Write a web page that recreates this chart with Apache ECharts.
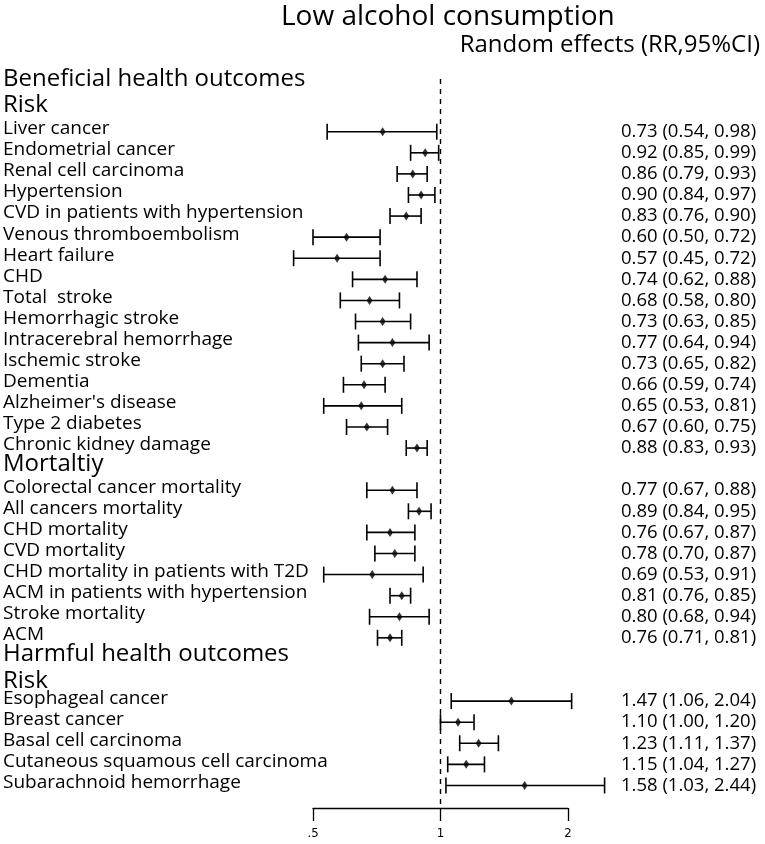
<!DOCTYPE html>
<html>
<head>
<meta charset="utf-8">
<script src="https://cdn.jsdelivr.net/npm/echarts@6/dist/echarts.min.js"></script>
<style>
  html, body { margin: 0; padding: 0; background: #fff; }
  #forest { width: 765px; height: 844px; }
</style>
</head>
<body>
<div id="forest"></div>
<script>
// rows top to bottom; headers have null values
var rowLabels = [
    'Beneficial health outcomes', 'Risk',
    'Liver cancer', 'Endometrial cancer', 'Renal cell carcinoma', 'Hypertension',
    'CVD in patients with hypertension', 'Venous thromboembolism', 'Heart failure', 'CHD',
    'Total  stroke', 'Hemorrhagic stroke', 'Intracerebral hemorrhage', 'Ischemic stroke',
    'Dementia', "Alzheimer's disease", 'Type 2 diabetes', 'Chronic kidney damage',
    'Mortaltiy',
    'Colorectal cancer mortality', 'All cancers mortality', 'CHD mortality', 'CVD mortality',
    'CHD mortality in patients with T2D', 'ACM in patients with hypertension', 'Stroke mortality', 'ACM',
    'Harmful health outcomes', 'Risk',
    'Esophageal cancer', 'Breast cancer', 'Basal cell carcinoma',
    'Cutaneous squamous cell carcinoma', 'Subarachnoid hemorrhage'
];
var rr = [
    null, null,
    0.73, 0.92, 0.86, 0.90, 0.83, 0.60, 0.57, 0.74, 0.68, 0.73, 0.77, 0.73, 0.66, 0.65, 0.67, 0.88,
    null,
    0.77, 0.89, 0.76, 0.78, 0.69, 0.81, 0.80, 0.76,
    null, null,
    1.47, 1.10, 1.23, 1.15, 1.58
];
var lower = [
    null, null,
    0.54, 0.85, 0.79, 0.84, 0.76, 0.50, 0.45, 0.62, 0.58, 0.63, 0.64, 0.65, 0.59, 0.53, 0.60, 0.83,
    null,
    0.67, 0.84, 0.67, 0.70, 0.53, 0.76, 0.68, 0.71,
    null, null,
    1.06, 1.00, 1.11, 1.04, 1.03
];
var upper = [
    null, null,
    0.98, 0.99, 0.93, 0.97, 0.90, 0.72, 0.72, 0.88, 0.80, 0.85, 0.94, 0.82, 0.74, 0.81, 0.75, 0.93,
    null,
    0.88, 0.95, 0.87, 0.87, 0.91, 0.85, 0.94, 0.81,
    null, null,
    2.04, 1.20, 1.37, 1.27, 2.44
];
var xTicks = [0.5, 1, 2];
var xTickLabels = ['.5', '1', '2'];
var nullLine = [1];  // RR = 1, no effect

var font = 'Open Sans';

var ciData = [], pointData = [], valueText = [];
for (var i = 0; i < rowLabels.length; i++) {
    if (rr[i] === null) {
        valueText.push(' '.repeat(i + 1));
        continue;
    }
    ciData.push([lower[i], upper[i], i]);
    pointData.push([rr[i], i]);
    valueText.push(rr[i].toFixed(2) + ' (' + lower[i].toFixed(2) + ', ' + upper[i].toFixed(2) + ')');
}

function renderCI(params, api) {
    var a = api.coord([api.value(0), api.value(2)]);
    var b = api.coord([api.value(1), api.value(2)]);
    var h = 8;
    var style = { stroke: '#000', lineWidth: 1.6 };
    return {
        type: 'group',
        children: [
            { type: 'line', shape: { x1: a[0], y1: a[1], x2: b[0], y2: b[1] }, style: style },
            { type: 'line', shape: { x1: a[0], y1: a[1] - h, x2: a[0], y2: a[1] + h }, style: style },
            { type: 'line', shape: { x1: b[0], y1: b[1] - h, x2: b[0], y2: b[1] + h }, style: style }
        ]
    };
}

function renderNullLine(params, api) {
    var x = api.coord([api.value(0), 0])[0];
    var cs = params.coordSys;
    return {
        type: 'line',
        shape: { x1: x, y1: cs.y, x2: x, y2: cs.y + cs.height + 12 },
        style: { stroke: '#000', lineWidth: 1.4, lineDash: [5, 5] }
    };
}

var chart = echarts.init(document.getElementById('forest'));
var option = {
    backgroundColor: '#fff',
    animation: false,
    title: [{
        text: 'Low alcohol consumption',
        left: 276,
        top: -2,
        textStyle: { fontFamily: font, fontSize: 28, fontWeight: 'normal', color: '#000' }
    }, {
        text: 'Random effects (RR,95%CI)',
        right: 0,
        top: 28,
        textStyle: { fontFamily: font, fontSize: 24, fontWeight: 'normal', color: '#000' }
    }],
    grid: {
        left: 313,
        right: 197,
        top: 79,
        bottom: 48,
        outerBoundsMode: 'none'
    },
    xAxis: {
        type: 'log',
        logBase: 2,
        min: 0.5,
        max: 2,
        offset: 12,
        splitLine: { show: false },
        axisLine: { show: true, lineStyle: { color: '#000', width: 1.3 } },
        axisTick: { show: true, length: 13, lineStyle: { color: '#000', width: 1.3 } },
        axisLabel: {
            margin: 19,
            color: '#000',
            fontFamily: 'Liberation Sans Narrow, DejaVu Sans Condensed, sans-serif',
            fontSize: 13,
            formatter: function (v) {
                for (var k = 0; k < xTicks.length; k++) {
                    if (Math.abs(v - xTicks[k]) < 1e-6) return xTickLabels[k];
                }
                return '';
            }
        }
    },
    yAxis: [{
        type: 'category',
        inverse: true,
        data: rowLabels,
        axisLine: { show: false },
        axisTick: { show: false },
        splitLine: { show: false },
        axisLabel: {
            interval: 0,
            align: 'left',
            margin: 310,
            color: '#000',
            fontFamily: font,
            fontSize: 19,
            formatter: function (v, idx) {
                if (rr[idx] !== null) return '{n|' + v + '}';
                if (idx === 0) return '{top|' + v + '}';
                if (idx === rowLabels.length - 6) return '{h0|' + v + '}';
                return '{h|' + v + '}';
            },
            rich: {
                n: { fontFamily: font, fontSize: 19, color: '#000', padding: [0, 0, 6, 0] },
                h: { fontFamily: font, fontSize: 24, color: '#000', padding: [0, 0, 10, 0] },
                h0: { fontFamily: font, fontSize: 24, color: '#000', padding: [3, 0, 0, 0] },
                top: { fontFamily: font, fontSize: 24, color: '#000', padding: [0, 0, 20, 0] }
            }
        }
    }, {
        type: 'category',
        inverse: true,
        position: 'right',
        data: valueText,
        axisLine: { show: false },
        axisTick: { show: false },
        splitLine: { show: false },
        axisLabel: {
            interval: 0,
            align: 'left',
            margin: 53,
            color: '#000',
            fontFamily: font,
            fontSize: 18.5
        }
    }],
    series: [{
        type: 'custom',
        name: 'CI',
        clip: false,
        renderItem: renderCI,
        encode: { x: [0, 1], y: 2 },
        data: ciData
    }, {
        type: 'custom',
        name: 'Null',
        clip: false,
        renderItem: renderNullLine,
        encode: { x: 0 },
        data: nullLine.map(function (v) { return [v]; })
    }, {
        type: 'scatter',
        name: 'RR',
        symbol: 'diamond',
        symbolSize: [6, 9],
        itemStyle: { color: '#000' },
        data: pointData,
        z: 3
    }]
};
chart.setOption(option);
</script>
</body>
</html>
